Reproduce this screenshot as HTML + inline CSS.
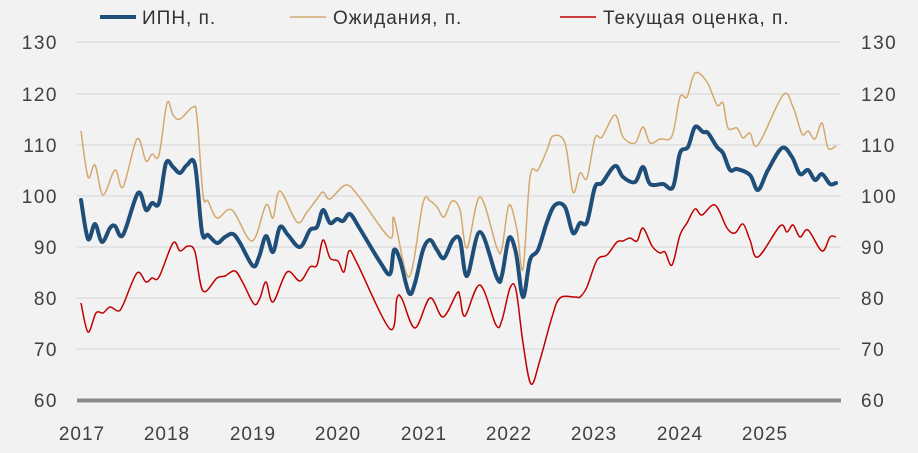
<!DOCTYPE html>
<html><head><meta charset="utf-8"><style>
html,body{margin:0;padding:0;background:#f2f2f2;}
svg{display:block;font-family:"Liberation Sans",sans-serif;}
</style></head><body>
<svg id="s" width="918" height="453" viewBox="0 0 918 453">
<rect width="918" height="453" fill="#f2f2f2"/>
<g stroke="#e3e3e3" stroke-width="2">
<line x1="77" x2="841" y1="42" y2="42"/><line x1="77" x2="841" y1="94" y2="94"/>
<line x1="77" x2="841" y1="145" y2="145"/><line x1="77" x2="841" y1="196" y2="196"/>
<line x1="77" x2="841" y1="247" y2="247"/><line x1="77" x2="841" y1="298" y2="298"/>
<line x1="77" x2="841" y1="349" y2="349"/>
</g>
<line x1="77" x2="841" y1="400.5" y2="400.5" stroke="#8c8c8c" stroke-width="4"/>
<g fill="#404040" font-size="19" text-anchor="end" letter-spacing="1.5">
<text x="58" y="49">130</text><text x="58" y="101">120</text><text x="58" y="152">110</text>
<text x="58" y="203">100</text><text x="58" y="254">90</text><text x="58" y="305">80</text>
<text x="58" y="356">70</text><text x="58" y="407">60</text>
</g>
<g fill="#404040" font-size="19" text-anchor="start" letter-spacing="1.5">
<text x="861" y="49">130</text><text x="861" y="101">120</text><text x="861" y="152">110</text>
<text x="861" y="203">100</text><text x="861" y="254">90</text><text x="861" y="305">80</text>
<text x="861" y="356">70</text><text x="861" y="407">60</text>
</g>
<g fill="#404040" font-size="19" text-anchor="middle" letter-spacing="1">
<text x="82" y="440">2017</text><text x="167" y="440">2018</text><text x="253" y="440">2019</text>
<text x="338" y="440">2020</text><text x="424" y="440">2021</text><text x="509" y="440">2022</text>
<text x="594" y="440">2023</text><text x="680" y="440">2024</text><text x="765" y="440">2025</text>
</g>
<g font-size="19" fill="#333" letter-spacing="1">
<line x1="100" x2="136" y1="17" y2="17" stroke="#1f4e79" stroke-width="4"/>
<text x="142" y="24">ИПН, п.</text>
<line x1="290" x2="326" y1="17" y2="17" stroke="#d4a86e" stroke-width="1.5"/>
<text x="333" y="24">Ожидания, п.</text>
<line x1="560" x2="596" y1="17" y2="17" stroke="#c00000" stroke-width="1.5"/>
<text x="603" y="24">Текущая оценка, п.</text>
</g>
<path id="tan" fill="none" stroke="#d4a86e" stroke-width="1.5"/>
<path id="red" fill="none" stroke="#c00000" stroke-width="1.5"/>
<path id="blue" fill="none" stroke="#1f4e79" stroke-width="4" stroke-linejoin="round" stroke-linecap="round"/>
</svg>
<script>
function cr(p){var d="M"+p[0][0]+","+p[0][1];for(var i=0;i<p.length-1;i++){var a=p[i-1]||p[i],b=p[i],c=p[i+1],e=p[i+2]||c;
d+=" C"+(b[0]+(c[0]-a[0])/6).toFixed(1)+","+(b[1]+(c[1]-a[1])/6).toFixed(1)+" "+(c[0]-(e[0]-b[0])/6).toFixed(1)+","+(c[1]-(e[1]-b[1])/6).toFixed(1)+" "+c[0]+","+c[1];}return d;}
var blue=[[81,200],[88,239],[95,224],[102,242],[110,228],[115,226],[123,235],[138,193],[146,210],[152,203],[159,203],[166,163],[173,167],[180,173],[187,165],[195,165],[202,232],[208,235],[217,243],[225,237],[233,234],[240,243],[253,266],[259,257],[266,236],[273,252],[280,227],[288,235],[300,247],[310,230],[317,227],[323,210],[330,223],[337,219],[343,221],[350,214],[360,229],[380,262],[390,274],[394,250],[400,260],[409,293],[415,283],[423,250],[430,240],[437,250],[444,258],[453,240],[460,240],[467,276],[480,232],[497,278],[502,275],[509,238],[516,253],[523,297],[530,260],[538,250],[547,222],[555,205],[565,207],[573,233],[580,223],[587,222],[595,187],[602,183],[615,166],[623,177],[635,182],[643,167],[650,184],[663,184],[673,187],[680,153],[688,147],[695,127],[703,132],[708,133],[717,147],[723,153],[730,170],[737,169],[750,175],[758,190],[768,170],[782,148],[792,157],[800,174],[808,170],[815,180],[822,174],[830,184],[836,183]];
var tan=[[81,131],[88,177],[95,165],[103,195],[115,170],[123,187],[137,139],[146,161],[152,154],[159,155],[167,103],[173,115],[180,119],[193,107],[197,117],[203,195],[208,201],[217,218],[232,210],[252,241],[266,205],[273,218],[280,191],[297,222],[307,212],[317,199],[323,192],[330,199],[346,185],[360,198],[390,238],[394,218],[409,277],[423,203],[430,201],[437,207],[444,217],[452,201],[460,210],[467,248],[480,197],[497,248],[502,248],[509,205],[517,230],[523,269],[530,177],[538,170],[547,150],[553,136],[565,143],[573,192],[580,173],[587,178],[595,138],[602,137],[615,115],[623,137],[635,143],[643,127],[650,143],[660,139],[672,136],[680,97],[687,97],[695,73],[707,82],[717,105],[723,103],[728,128],[737,128],[743,138],[750,133],[758,145],[783,95],[793,107],[802,134],[808,131],[815,139],[822,123],[828,148],[836,146]];
var red=[[81,303],[88,332],[96,313],[103,313],[110,307],[118,311],[123,305],[137,273],[146,282],[152,278],[159,277],[173,243],[180,251],[188,246],[195,252],[203,291],[217,278],[225,276],[235,271],[243,283],[254,304],[260,298],[266,282],[273,302],[287,272],[300,281],[310,267],[317,265],[323,240],[330,258],[338,261],[344,272],[349,251],[357,263],[390,329],[397,298],[402,299],[415,328],[430,298],[443,317],[457,293],[460,297],[465,316],[480,285],[496,325],[502,320],[510,288],[516,290],[523,343],[531,384],[540,360],[552,317],[560,298],[575,297],[580,297],[587,287],[597,260],[607,255],[617,242],[623,241],[630,238],[637,241],[643,228],[652,246],[660,253],[665,252],[672,265],[680,235],[687,223],[695,209],[702,215],[715,205],[727,228],[735,233],[743,224],[750,240],[758,257],[780,226],[787,232],[793,225],[800,237],[808,230],[822,251],[830,237],[836,237]];
document.getElementById("blue").setAttribute("d",cr(blue));
document.getElementById("tan").setAttribute("d",cr(tan));
document.getElementById("red").setAttribute("d",cr(red));
</script>
</body></html>
